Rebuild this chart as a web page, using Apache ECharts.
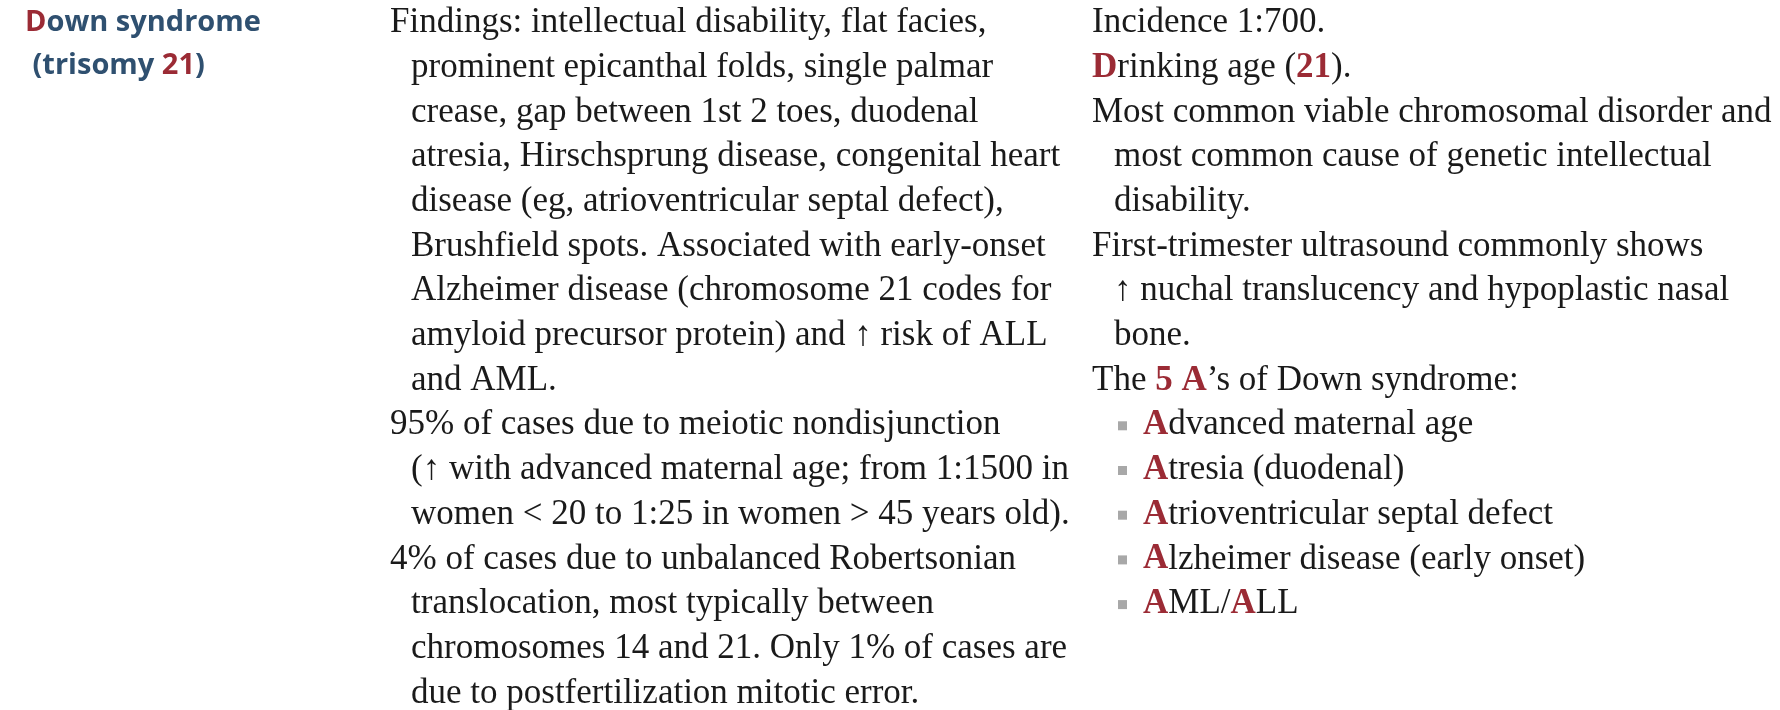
<!DOCTYPE html>
<html lang="en">
<head>
<meta charset="UTF-8">
<title>Down syndrome</title>
<script src="https://cdn.jsdelivr.net/npm/echarts@6/dist/echarts.min.js"></script>
</head>
<body style="margin:0;background:#fff">
<div id="card" style="width:1780px;height:710px;"></div>
<script>
// heading lines, {r|..} marks red letters
var titleLines = ['{r|D}own syndrome', ' (trisomy {r|21})'];
// middle column, indent flag per line
var findLines = [
    ['Findings: intellectual disability, flat facies,', 0],
    ['prominent epicanthal folds, single palmar', 1],
    ['crease, gap between 1st 2 toes, duodenal', 1],
    ['atresia, Hirschsprung disease, congenital heart', 1],
    ['disease (eg, atrioventricular septal defect),', 1],
    ['Brushfield spots. Associated with early-onset', 1],
    ['Alzheimer disease (chromosome 21 codes for', 1],
    ['amyloid precursor protein) and \u2191 risk of ALL', 1],
    ['and AML.', 1],
    ['95% of cases due to meiotic nondisjunction', 0],
    ['(\u2191 with advanced maternal age; from 1:1500 in', 1],
    ['women < 20 to 1:25 in women > 45 years old).', 1],
    ['4% of cases due to unbalanced Robertsonian', 0],
    ['translocation, most typically between', 1],
    ['chromosomes 14 and 21. Only 1% of cases are', 1],
    ['due to postfertilization mitotic error.', 1]
];
// right column: 0 = line start, 1 = continuation, 2 = bullet
var noteLines = [
    ['Incidence 1:700.', 0],
    ['{r|D}rinking age ({r|21}).', 0],
    ['Most common viable chromosomal disorder and', 0],
    ['most common cause of genetic intellectual', 1],
    ['disability.', 1],
    ['First-trimester ultrasound commonly shows', 0],
    ['\u2191 nuchal translucency and hypoplastic nasal', 1],
    ['bone.', 1],
    ['The {r|5 A}\u2019s of Down syndrome:', 0],
    ['{r|A}dvanced maternal age', 2],
    ['{r|A}tresia (duodenal)', 2],
    ['{r|A}trioventricular septal defect', 2],
    ['{r|A}lzheimer disease (early onset)', 2],
    ['{r|A}ML/{r|A}LL', 2]
];

var RED = '#9b2b35', BLUE = '#2f5070';
var serif = 'Liberation Serif';
var FS = 35;
var lineH = 44.7, top0 = 23;
var g = [];

titleLines.forEach(function (t, i) {
    g.push({
        type: 'text', x: 25, y: 23 + i * 43,
        style: {
            text: t, fill: BLUE, font: 'bold 29px "Open Sans"', verticalAlign: 'middle',
            rich: { r: { fill: RED, font: 'bold 29px "Open Sans"' } }
        }
    });
});

function bodyText(x, y, t) {
    return {
        type: 'text', x: x, y: y,
        style: {
            text: t, fill: '#1a1a1a', font: FS + 'px "' + serif + '"', verticalAlign: 'middle',
            rich: { r: { fill: RED, fontWeight: 'bold', fontSize: FS, fontFamily: serif } }
        }
    };
}

findLines.forEach(function (l, i) {
    g.push(bodyText(l[1] ? 411 : 390, top0 + i * lineH, l[0]));
});

noteLines.forEach(function (l, i) {
    var y = top0 + i * lineH;
    if (l[1] === 2) {
        g.push({ type: 'rect', shape: { x: 1118, y: y - 4, width: 9, height: 9 }, style: { fill: '#a8a8a8' } });
        g.push(bodyText(1143, y, l[0]));
    } else {
        g.push(bodyText(l[1] ? 1114 : 1092, y, l[0]));
    }
});

var myChart = echarts.init(document.getElementById('card'));
myChart.setOption({ backgroundColor: '#fff', graphic: g });
</script>
</body>
</html>
